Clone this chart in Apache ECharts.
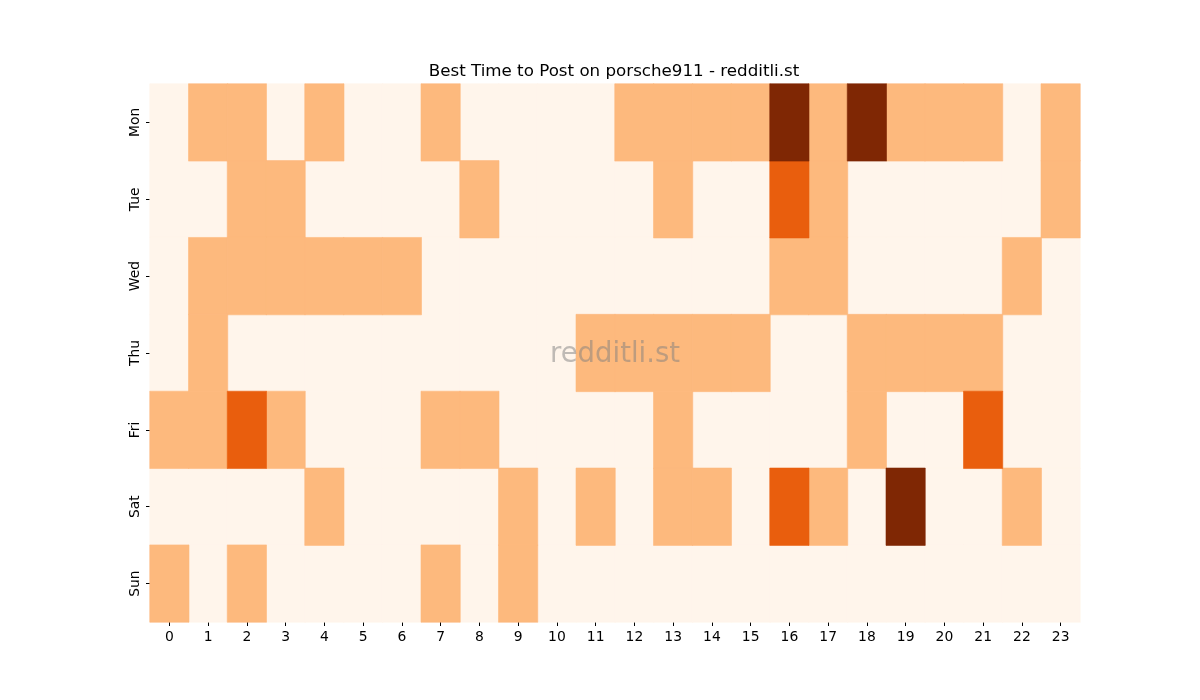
<!DOCTYPE html>
<html>
<head>
<meta charset="utf-8">
<script src="https://cdn.jsdelivr.net/npm/echarts@6/dist/echarts.min.js"></script>
<style>
html, body { margin: 0; padding: 0; background: #fff; }
#chart { width: 1200px; height: 700px; }
</style>
</head>
<body>
<div id="chart"></div>
<script>
var hours = ['0','1','2','3','4','5','6','7','8','9','10','11','12','13','14','15','16','17','18','19','20','21','22','23'];
var days = ['Mon', 'Tue', 'Wed', 'Thu', 'Fri', 'Sat', 'Sun'];

// posts per hour slot, one list per weekday
var mon = [0,1,1,0,1,0,0,1,0,0,0,0,1,1,1,1,3,1,3,1,1,1,0,1];
var tue = [0,0,1,1,0,0,0,0,1,0,0,0,0,1,0,0,2,1,0,0,0,0,0,1];
var wed = [0,1,1,1,1,1,1,0,0,0,0,0,0,0,0,0,1,1,0,0,0,0,1,0];
var thu = [0,1,0,0,0,0,0,0,0,0,0,1,1,1,1,1,0,0,1,1,1,1,0,0];
var fri = [1,1,2,1,0,0,0,1,1,0,0,0,0,1,0,0,0,0,1,0,0,2,0,0];
var sat = [0,0,0,0,1,0,0,0,0,1,0,1,0,1,1,0,2,1,0,3,0,0,1,0];
var sun = [1,0,1,0,0,0,0,1,0,1,0,0,0,0,0,0,0,0,0,0,0,0,0,0];

var levelColors = ['#fff5eb', '#fdb97d', '#e95e0d', '#7f2704'];

var rows = [mon, tue, wed, thu, fri, sat, sun];
var data = [];
rows.forEach(function (row, d) {
    row.forEach(function (v, h) {
        data.push([h, d, v]);
    });
});

// one series per level so each cell gets a border of its own colour (no seams)
var series = levelColors.map(function (c, lvl) {
    return {
        type: 'heatmap',
        data: data.filter(function (p) { return p[2] === lvl; }),
        itemStyle: { color: c, borderColor: c, borderWidth: 0.6 },
        emphasis: { disabled: true }
    };
});

var chart = echarts.init(document.getElementById('chart'));
var option = {
    animation: false,
    title: {
        text: 'Best Time to Post on porsche911 - redditli.st',
        left: 609,
        textAlign: 'center',
        top: 58,
        textStyle: {
            fontFamily: 'DejaVu Sans',
            fontSize: 16.7,
            fontWeight: 'normal',
            color: '#000'
        }
    },
    graphic: [{
        type: 'text',
        left: 550,
        top: 341,
        silent: true,
        z: 100,
        style: {
            text: 'redditli.st',
            font: '27.5px "DejaVu Sans"',
            fill: 'rgba(128,128,128,0.5)'
        }
    }],
    grid: {
        left: 150,
        right: 120,
        top: 84,
        bottom: 78
    },
    xAxis: {
        type: 'category',
        data: hours,
        splitArea: { show: false },
        axisLine: { show: false },
        axisTick: {
            show: true,
            alignWithLabel: true,
            length: 4,
            lineStyle: { color: '#000' }
        },
        axisLabel: {
            fontFamily: 'DejaVu Sans',
            fontSize: 13.9,
            color: '#000',
            margin: 8,
            interval: 0
        }
    },
    yAxis: {
        type: 'category',
        data: days,
        inverse: true,
        splitArea: { show: false },
        axisLine: { show: false },
        axisTick: {
            show: true,
            alignWithLabel: true,
            length: 4,
            lineStyle: { color: '#000' }
        },
        axisLabel: {
            fontFamily: 'DejaVu Sans',
            fontSize: 13.9,
            color: '#000',
            rotate: 90,
            margin: 8,
            verticalAlign: 'bottom'
        }
    },
    series: series
};
chart.setOption(option);
</script>
</body>
</html>
